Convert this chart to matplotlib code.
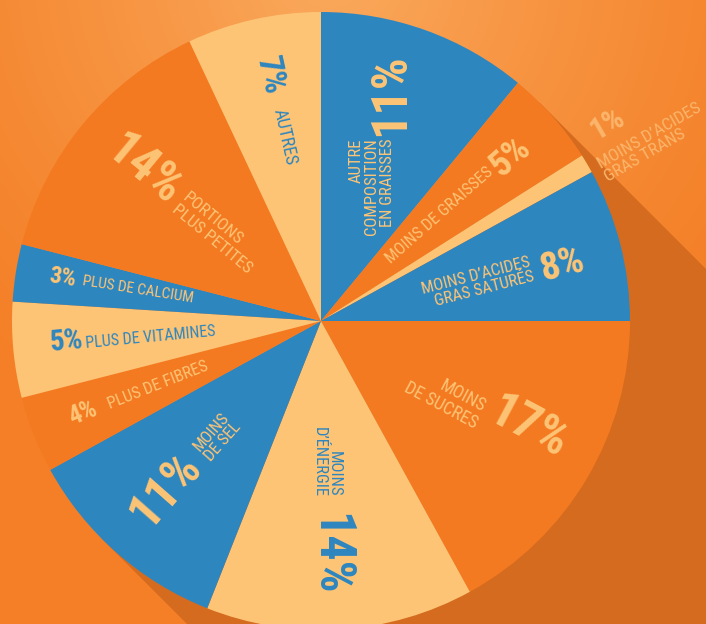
import numpy as np
import matplotlib
matplotlib.use("Agg")
import matplotlib.pyplot as plt
import matplotlib.font_manager as fm
from matplotlib.patches import Polygon

# data: share of each reformulation type, clockwise from 12 o'clock
values = [11, 5, 1, 8, 17, 14, 11, 4, 5, 3, 14, 7]
pct_labels = ["11%", "5%", "1%", "8%", "17%", "14%", "11%", "4%", "5%", "3%", "14%", "7%"]
names = [
    "AUTRE\nCOMPOSITION\nEN GRAISSES",
    "MOINS DE GRAISSES",
    "MOINS D’ACIDES\nGRAS TRANS",
    "MOINS D’ACIDES\nGRAS SATURÉS",
    "MOINS\nDE SUCRES",
    "MOINS\nD’ÉNERGIE",
    "MOINS\nDE SEL",
    "PLUS DE FIBRES",
    "PLUS DE VITAMINES",
    "PLUS DE CALCIUM",
    "PORTIONS\nPLUS PETITES",
    "AUTRES",
]

BLUE = "#2E86BF"
ORANGE = "#F47A22"
LIGHT = "#FDC475"
SHADOW = "#D56B1E"
colors = [BLUE, ORANGE, LIGHT] * 4

# narrow font (DIN-like look)
avail = {f.name for f in fm.fontManager.ttflist}
if "Roboto Condensed" in avail:
    FONT, STRETCH = "Roboto Condensed", "condensed"
else:
    FONT, STRETCH = "DejaVu Sans", "condensed"

# label layout (radius as fraction of pie radius, angle nudges, rotation)
r_pct = [0.766, 0.81, 1.126, 0.80, 0.753, 0.754, 0.744, 0.825, 0.825, 0.847, 0.755, 0.812]
r_lab = [0.464, 0.513, 1.22, 0.523, 0.47, 0.456, 0.504, 0.566, 0.553, 0.60, 0.44, 0.607]
dth_pct = [2.6, -0.4, 4.1, -1.4, 3.5, -1.4, -1.3, -0.5, -0.7, -0.5, -0.7, -0.9]
dth_lab = [-1.0, 0.5, -2.3, -0.8, -0.9, -1.2, -0.5, -0.2, 0.0, -0.6, -0.6, -1.5]
rot_fix = [90, None, 30, None, -28, -90, None, None, None, None, None, None]
pct_size = [36, 26, 22, 28, 36, 36, 36, 18, 21, 17, 36, 24]
lab_size = [12, 12, 12.5, 12, 13, 12, 12, 12, 11.5, 11, 12.5, 13]
malign = ["right", "center", "left", "right", "right", "right", "left",
          "center", "center", "center", "left", "center"]

W, H = 706, 624
cx, cy, R = 321, 303, 309

fig = plt.figure(figsize=(7.06, 6.24), dpi=100)
ax = fig.add_axes([0, 0, 1, 1])

# background glow, lightest near the top middle
yy, xx = np.mgrid[0:H, 0:W]
d = np.hypot(xx - 330, yy + 30)
w = np.clip(1 - d / 520, 0, 1) ** 1.3
base = np.array(matplotlib.colors.to_rgb("#F47F26"))
light = np.array(matplotlib.colors.to_rgb("#FAAA5E"))
img = base * (1 - w)[..., None] + light * w[..., None]
ax.imshow(img, extent=(0, W, 0, H), origin="upper", zorder=0)

# long shadow going down-right
dvec = np.array([1.0, -1.0])
p1 = np.array([cx, cy]) + R * np.array([np.cos(np.pi / 4), np.sin(np.pi / 4)])
p2 = np.array([cx, cy]) + R * np.array([np.cos(5 * np.pi / 4), np.sin(5 * np.pi / 4)])
L = 2000
ax.add_patch(Polygon([p1, p1 + L * dvec, p2 + L * dvec, p2], closed=True,
                     facecolor=SHADOW, edgecolor="none", zorder=1))

wedges, _ = ax.pie(values, colors=colors, startangle=90, counterclock=False,
                   center=(cx, cy), radius=R,
                   wedgeprops=dict(linewidth=0, zorder=2))

for i, wd in enumerate(wedges):
    mid = (wd.theta1 + wd.theta2) / 2.0
    mid = (mid + 180) % 360 - 180
    rot = mid
    if rot > 90:
        rot -= 180
    elif rot < -90:
        rot += 180
    if rot_fix[i] is not None:
        rot = rot_fix[i]
    if colors[i] == LIGHT:
        tc = BLUE
    else:
        tc = LIGHT
    if i == 2:
        tc = "#FBB66C"  # label sitting on the background

    a = np.radians(mid + dth_pct[i])
    ax.text(cx + r_pct[i] * R * np.cos(a), cy + r_pct[i] * R * np.sin(a),
            pct_labels[i], rotation=rot, rotation_mode="anchor",
            ha="center", va="center", color=tc, fontsize=pct_size[i],
            fontweight="bold", family=FONT, fontstretch=STRETCH, zorder=3)
    a = np.radians(mid + dth_lab[i])
    ax.text(cx + r_lab[i] * R * np.cos(a), cy + r_lab[i] * R * np.sin(a),
            names[i], rotation=rot, rotation_mode="anchor",
            ha="center", va="center", multialignment=malign[i],
            color=tc, fontsize=lab_size[i], family=FONT, fontstretch=STRETCH,
            linespacing=1.05, zorder=3)

ax.set_xlim(0, W)
ax.set_ylim(0, H)
ax.set_aspect("auto")
ax.axis("off")

fig.savefig("out.png", dpi=100)
